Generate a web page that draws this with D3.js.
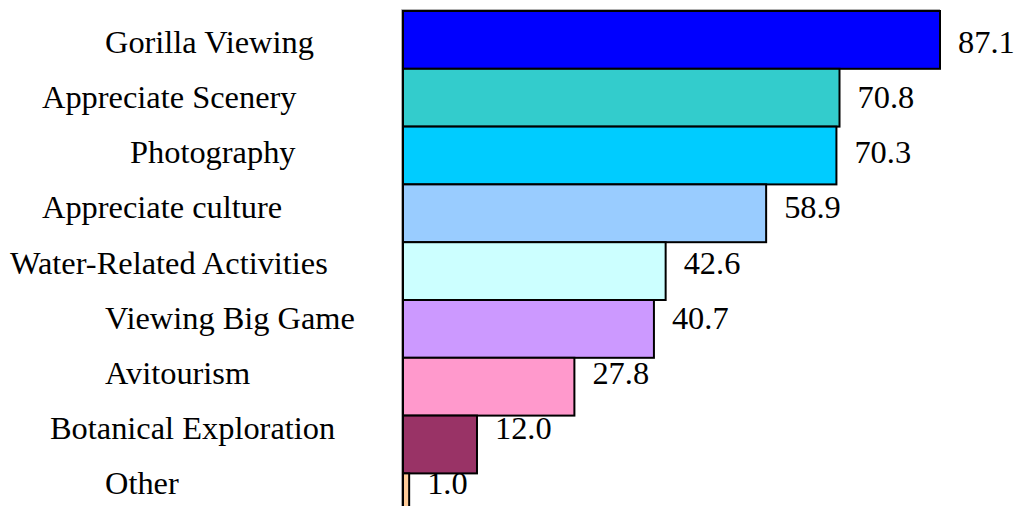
<!DOCTYPE html>
<html>
<head>
<meta charset="utf-8">
<script src="https://cdn.jsdelivr.net/npm/d3@7"></script>
<style>
  html, body { margin: 0; padding: 0; background: #fff; }
  svg { display: block; }
  text { font-family: "Liberation Serif", "Times New Roman", serif; fill: #000; }
</style>
</head>
<body>
<svg id="chart" width="1026" height="506"></svg>
<script>
// Tourism activities, percent of respondents
const categories = [
  "Gorilla Viewing",
  "Appreciate Scenery",
  "Photography",
  "Appreciate culture",
  "Water-Related Activities",
  "Viewing Big Game",
  "Avitourism",
  "Botanical Exploration",
  "Other"
];
const values = [87.1, 70.8, 70.3, 58.9, 42.6, 40.7, 27.8, 12.0, 1.0];
const colors = ["#0000FF", "#33CCCC", "#00CCFF", "#99CCFF", "#CCFFFF",
                "#CC99FF", "#FF99CC", "#993366", "#FFCC99"];

// Left edge of each category label (layout only)
const labelLeft = [105, 42, 130, 42, 10, 105, 105, 50, 105];

const svg = d3.select("#chart");
const W = 1026, H = 506;
const FONT = 32.4;

const x = d3.scaleLinear()
  .domain([0, d3.max(values)])
  .range([403, 940]);

const y = d3.scaleBand()
  .domain(categories)
  .range([11, 11 + 57.8 * categories.length])
  .padding(0);

// text rows sit on a slightly tighter pitch than the bars
const textY = d3.scalePoint()
  .domain(categories)
  .range([53, 494]);

const rows = categories.map((c, i) => ({ c, v: values[i], color: colors[i], lx: labelLeft[i] }));

// faint frame on the left/top of the plot
svg.append("line")
  .attr("x1", 401.5).attr("x2", 401.5)
  .attr("y1", 9.5).attr("y2", H)
  .attr("stroke", "#b0b0b0").attr("stroke-width", 1);
svg.append("line")
  .attr("x1", 401.5).attr("x2", x(values[0]))
  .attr("y1", 9.5).attr("y2", 9.5)
  .attr("stroke", "#b0b0b0").attr("stroke-width", 1);

svg.append("g")
  .selectAll("rect")
  .data(rows)
  .join("rect")
  .attr("x", x(0))
  .attr("y", d => y(d.c))
  .attr("width", d => x(d.v) - x(0))
  .attr("height", y.bandwidth())
  .attr("fill", d => d.color)
  .attr("stroke", "#000")
  .attr("stroke-width", 2);

svg.append("g")
  .selectAll("text")
  .data(rows)
  .join("text")
  .attr("x", d => d.lx)
  .attr("y", d => textY(d.c))
  .attr("font-size", FONT)
  .text(d => d.c);

svg.append("g")
  .selectAll("text")
  .data(rows)
  .join("text")
  .attr("x", d => x(d.v) + 18)
  .attr("y", d => textY(d.c))
  .attr("font-size", FONT)
  .text(d => d.v.toFixed(1));
</script>
</body>
</html>
